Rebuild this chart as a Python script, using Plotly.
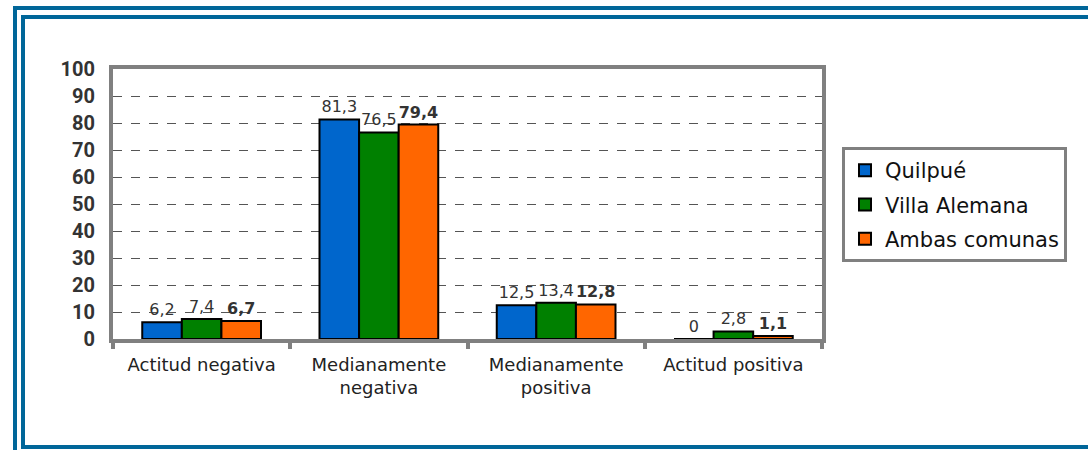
import plotly.graph_objects as go

categories = ["Actitud negativa", "Medianamente<br>negativa", "Medianamente<br>positiva", "Actitud positiva"]
series_names = ["Quilpué", "Villa Alemana", "Ambas comunas"]
quilpue = [6.2, 81.3, 12.5, 0]
villa_alemana = [7.4, 76.5, 13.4, 2.8]
ambas = [6.7, 79.4, 12.8, 1.1]
colors = ["#0066CC", "#008000", "#FF6600"]
y_ticks = [0, 10, 20, 30, 40, 50, 60, 70, 80, 90, 100]

W, H = 1088, 450
L, R, T, B = 113, 822, 69, 339

def fmt(v, bold=False):
    s = ("%g" % v).replace(".", ",")
    return "<b>%s</b>" % s if bold else s

fig = go.Figure()
for name, vals, col, bold in zip(series_names, [quilpue, villa_alemana, ambas], colors, [False, False, True]):
    fig.add_trace(go.Bar(
        x=categories, y=vals, name=name, legendgroup=name,
        marker=dict(color=col, line=dict(color="black", width=2)),
        text=[fmt(v, bold) for v in vals],
        textposition="outside",
        textfont=dict(family="DejaVu Sans", size=16, color="#333333"),
        cliponaxis=False,
    ))

def px(x):
    return (x - L) / (R - L)

def py(y):
    return (B - y) / (B - T)

shapes = [
    dict(type="rect", xref="paper", yref="paper", x0=px(15), x1=px(1120), y0=py(8), y1=py(480),
         line=dict(color="#006699", width=4), layer="below"),
    dict(type="rect", xref="paper", yref="paper", x0=px(23), x1=px(1120), y0=py(17), y1=py(447),
         line=dict(color="#006699", width=4), layer="below"),
]

fig.update_layout(
    width=W, height=H,
    margin=dict(l=L, r=W - R, t=T, b=H - B, autoexpand=False),
    paper_bgcolor="white", plot_bgcolor="white",
    barmode="group", bargap=0.33, bargroupgap=0,
    shapes=shapes,
    showlegend=True,
    legend=dict(
        x=px(842), y=py(147), xanchor="left", yanchor="top",
        bordercolor="#808080", borderwidth=3, bgcolor="white",
        font=dict(family="DejaVu Sans", size=21, color="#111111"),
        itemwidth=30, tracegroupgap=4,
    ),
    font=dict(family="DejaVu Sans", color="#333333"),
)
fig.update_xaxes(
    showline=True, mirror=True, linecolor="#808080", linewidth=4,
    ticks="outside", tickson="boundaries", ticklen=6, tickwidth=4, tickcolor="#808080",
    tickfont=dict(family="DejaVu Sans", size=18, color="#222222"),
    ticklabelstandoff=6,
    showgrid=False,
)
fig.update_yaxes(
    range=[0, 100], tickvals=y_ticks,
    showline=True, mirror=True, linecolor="#808080", linewidth=4,
    showgrid=True, gridcolor="#555555", gridwidth=1, griddash="dash",
    zeroline=False, ticks="",
    ticklabelstandoff=10,
    tickfont=dict(family="Roboto", size=20, color="#333333", weight="bold"),
)

fig.write_html(
    "out.html",
    config={"displayModeBar": False},
    post_script="document.body.style.margin='0';document.body.style.overflow='hidden';",
)
